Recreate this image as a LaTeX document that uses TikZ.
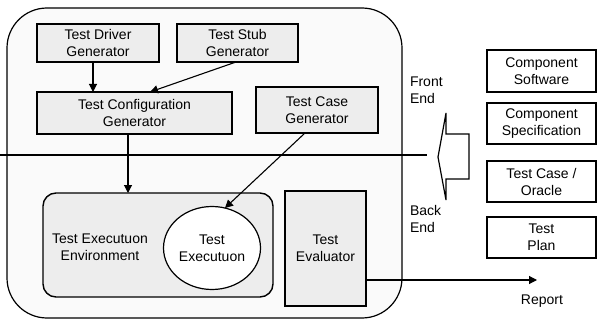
\documentclass[tikz,border=0pt]{standalone}
\usepackage{fontspec}
\setmainfont{Liberation Sans}
\usetikzlibrary{arrows.meta,shapes.geometric}
\begin{document}
\begin{tikzpicture}[x=1pt,y=-1pt,
  every node/.style={inner sep=0pt,outer sep=0pt,font=\fontsize{14}{17}\selectfont,align=center},
  inbox/.style={draw,line width=1.4pt,fill=gray!14,rectangle},
  outbox/.style={draw,line width=1.2pt,fill=white,rectangle,minimum width=109pt,minimum height=41pt},
  arr/.style={-{Triangle[length=8pt,width=8pt]},line width=1.1pt},
  plain/.style={line width=1.1pt}]
\useasboundingbox (0,0) rectangle (597,326);
% container
\node[draw,line width=1.2pt,rounded corners=40pt,fill=gray!4,minimum width=395pt,minimum height=310pt] (sys) at (204.5,163) {};
% horizontal divider
\coordinate (hl) at (0,155);
\coordinate (hr) at (427,155);
\draw[plain] (hl) -- (hr);
% boxes
\node[inbox,minimum width=122pt,minimum height=38pt] (driver) at (98,43) {Test Driver\\Generator};
\node[inbox,minimum width=121pt,minimum height=38pt] (stub) at (237.5,43) {Test Stub\\Generator};
\node[inbox,minimum width=195pt,minimum height=42pt] (config) at (134.5,113) {Test Configuration\\Generator};
\node[inbox,minimum width=122pt,minimum height=46pt] (casegen) at (317,110) {Test Case\\Generator};
\node[inbox,rounded corners=13pt,minimum width=230pt,minimum height=104pt] (env) at (158,245) {};
\node (envlabel) at (100,247) {Test Executuon\\Environment};
\node[draw,line width=1.2pt,ellipse,fill=white,minimum width=97pt,minimum height=83pt] (exec) at (212,248) {Test\\Executuon};
\node[inbox,minimum width=81pt,minimum height=115pt] (eval) at (325.5,248.5) {Test\\Evaluator};
% right boxes
\node[outbox,minimum height=42pt] (cs) at (541.5,71) {Component\\Software};
\node[outbox] (cspec) at (541.5,123.5) {Component\\Specification};
\node[outbox] (tco) at (541.5,181.5) {Test Case /\\Oracle};
\node[outbox] (tp) at (541.5,237.5) {Test\\Plan};
% labels
\node[align=left,anchor=west] (front) at (410,90) {Front\\End};
\node[align=left,anchor=west] (back) at (410,219) {Back\\End};
\node (report) at (542,301) {Report};
% hollow arrow
\draw[line width=1.2pt,fill=white] (438,157) -- (446,113) -- (446,134) -- (469,134) -- (469,179) -- (446,179) -- (446,200) -- cycle;
% connectors
\draw[arr] ([xshift=-5pt]driver.south) -- ([xshift=-5pt]driver.south |- config.north);
\draw[arr] ([xshift=-1.5pt]stub.south) -- ([xshift=15.5pt]config.north);
\draw[arr] ([xshift=-6.5pt]config.south) -- ([xshift=-6.5pt]config.south |- env.north);
\draw[arr] ([xshift=-12pt]casegen.south) -- (exec.72);
\coordinate (rep) at (537,280);
\draw[arr] (eval.east |- rep) -- (rep);
\end{tikzpicture}
\end{document}
